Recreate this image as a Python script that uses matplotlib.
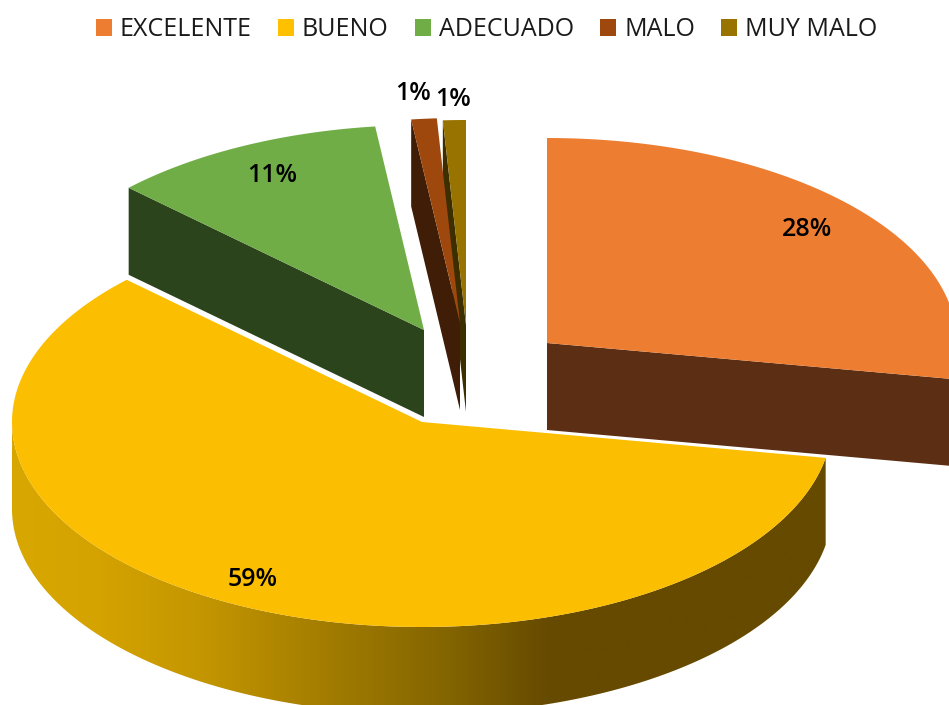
import matplotlib
matplotlib.use("Agg")
import matplotlib.pyplot as plt
from matplotlib.patches import Polygon, Patch
import numpy as np

categories = ['EXCELENTE', 'BUENO', 'ADECUADO', 'MALO', 'MUY MALO']
percent = [27.8, 59.4, 10.9, 1.0, 0.9]

top_colors = ['#ed7d31', '#fbbe00', '#70ad47', '#9e480e', '#997300']
legend_colors = ['#ed7d31', '#ffc000', '#70ad47', '#9e480e', '#997300']
side_colors = ['#5c2f15', '#664a00', '#2c441c', '#3f1d06', '#3d2e00']

# where each exploded slice has its tip, in figure pixels
tips = [(547, 343), (422, 422), (424, 330), (460, 323), (466, 325)]
label_xy = [(807, 230), (253, 580), (272, 175), (413, 94), (453, 99)]

RX = 410
RY = 205
DEPTH = 87

plt.rcParams['font.family'] = ['Open Sans', 'DejaVu Sans']


def rim(tip, a1, a2, n=200):
    """points along the ellipse, angles clockwise from the top in degrees"""
    a = np.radians(np.linspace(a1, a2, n))
    return np.column_stack([tip[0] + RX * np.sin(a), tip[1] - RY * np.cos(a)])


def draw_wall_gradient(ax, tip, a1, a2):
    # yellow slice shows its outer wall, shaded left to right
    front = rim(tip, a1, min(a2, 270))
    back = front[::-1] + [0, DEPTH]
    clip = Polygon(np.vstack([front, back]), closed=True, fc='none', ec='none',
                   transform=ax.transData)
    ax.add_patch(clip)

    x = np.arange(0, 950)
    stops = [12, 100, 200, 300, 450, 550]
    r = np.interp(x, stops, [217, 212, 196, 170, 130, 102])
    g = np.interp(x, stops, [167, 163, 150, 130, 100, 74])
    b = np.zeros(len(x))
    grad = np.dstack([r, g, b])[0:1] / 255
    im = ax.imshow(grad, extent=[0, 949, 705, 400], aspect='auto', interpolation='bilinear')
    im.set_clip_path(clip)


def draw_slice(ax, i, a1, a2):
    tip = tips[i]
    edge = rim(tip, a1, a2)

    if i == 1:
        draw_wall_gradient(ax, tip, a1, a2)
    else:
        # flat side wall, the radius that faces us
        if i == 0:
            p = edge[-1]
        else:
            p = edge[0]
        wall = [tip, p, (p[0], p[1] + DEPTH), (tip[0], tip[1] + DEPTH)]
        ax.add_patch(Polygon(wall, closed=True, fc=side_colors[i], ec='none'))

    top = np.vstack([[tip], edge])
    ax.add_patch(Polygon(top, closed=True, fc=top_colors[i], ec='none'))


def main():
    fig = plt.figure(figsize=(9.49, 7.05), dpi=100)
    ax = fig.add_axes([0, 0, 1, 1])

    ends = np.cumsum(percent) * 3.6
    starts = ends - np.array(percent) * 3.6

    for i in [4, 3, 2, 0, 1]:
        draw_slice(ax, i, starts[i], ends[i])

    ax.set_xlim(0, 949)
    ax.set_ylim(705, 0)
    ax.axis('off')

    for i in range(len(percent)):
        ax.text(label_xy[i][0], label_xy[i][1], '%.0f%%' % percent[i], fontsize=18,
                fontweight='semibold', ha='center', va='center', color='black')

    handles = [Patch(fc=c, ec='none') for c in legend_colors]
    ax.legend(handles, categories, ncol=5, loc='center', bbox_to_anchor=(0.5127, 0.958),
              frameon=False, fontsize=18, handlelength=0.64, handleheight=0.64,
              handletextpad=0.32, columnspacing=1.05, labelcolor='#1a1a1a')

    fig.savefig('out.png', dpi=100)


if __name__ == "__main__":
    main()
